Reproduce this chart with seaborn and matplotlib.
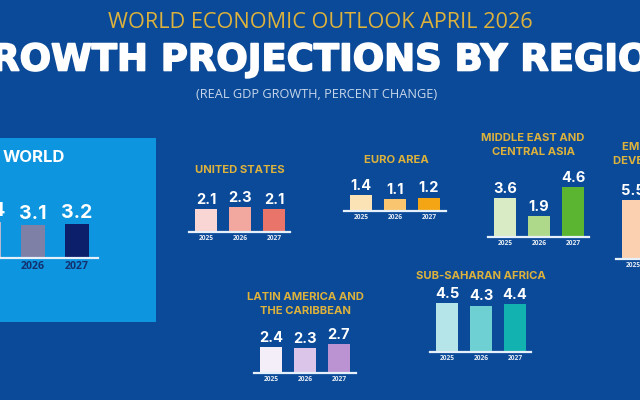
import matplotlib
matplotlib.use("Agg")
import matplotlib.pyplot as plt
import matplotlib.patheffects as pe
from matplotlib.patches import Rectangle
import pandas as pd
import seaborn as sns

W, H = 640, 400
BG = "#0B4A98"
GOLD = "#DDB23C"

years = ["2025", "2026", "2027"]
world_values = [3.4, 3.1, 3.2]
us_values = [2.1, 2.3, 2.1]
euro_values = [1.4, 1.1, 1.2]
mideast_values = [3.6, 1.9, 4.6]
latam_values = [2.4, 2.3, 2.7]
ssa_values = [4.5, 4.3, 4.4]
em_years = ["2025"]
em_values = [5.5]

world_colors = ["#B8B8D0", "#7F80A6", "#0B1F6B"]
us_colors = ["#F9D5D3", "#F2A79F", "#E9746A"]
euro_colors = ["#FCE3B6", "#F9C66F", "#F3A514"]
mideast_colors = ["#D8EBC5", "#AFD98A", "#5CB531"]
latam_colors = ["#F3EEF8", "#DBC5E8", "#BC93D2"]
ssa_colors = ["#B5E5E8", "#6FD0D3", "#12B2B0"]
em_colors = ["#FBD0B0"]

sns.set_theme(style="white")
plt.rcParams["font.family"] = ["Open Sans", "DejaVu Sans"]

fig = plt.figure(figsize=(W / 100, H / 100), dpi=100, facecolor=BG)

# World panel backdrop
fig.add_artist(Rectangle((0, 1 - 322 / H), 156 / W, 184 / H, transform=fig.transFigure,
                         facecolor="#0E95DF", edgecolor="none", zorder=0))


def panel(cats, vals, colors, left, right, base, step, bar_w, scale=10.8,
          val_fs=10.5, year_fs=4.8, year_color="#E8EEF6", lw=1.6):
    """left/right: baseline extent in px; base: baseline y in px from top."""
    height = 7 * scale
    ax = fig.add_axes([left / W, 1 - base / H, (right - left) / W, height / H])
    ax.patch.set_alpha(0)
    df = pd.DataFrame({"year": cats, "value": vals})
    sns.barplot(data=df, x="year", y="value", hue="year", palette=colors, order=cats,
                hue_order=cats, dodge=False, legend=False, width=bar_w, saturation=1,
                linewidth=0, ax=ax)
    span = (right - left) / step
    ax.set_xlim(-0.5, span - 0.5)
    ax.set_ylim(0, 7)
    for c in ax.containers:
        ax.bar_label(c, fmt="%.1f", padding=1.5, color="white", fontsize=val_fs,
                     fontweight="bold", family="Inter")
    ax.set_xlabel("")
    ax.set_ylabel("")
    ax.set_yticks([])
    ax.tick_params(axis="x", length=0, pad=2.2, labelsize=year_fs, labelcolor=year_color)
    for t in ax.get_xticklabels():
        t.set_fontweight("bold")
    sns.despine(ax=ax, left=True)
    ax.spines["bottom"].set_color("#E6F0FA")
    ax.spines["bottom"].set_linewidth(lw)
    return ax


panel(years, world_values, world_colors, -33, 98, 258, 44, 0.53, scale=10.6,
      val_fs=14, year_fs=7.6, year_color="#14306F")
panel(years, us_values, us_colors, 189, 290, 231.5, 34, 0.62)
panel(years, euro_values, euro_colors, 344, 446, 210.5, 34, 0.62)
panel(years, mideast_values, mideast_colors, 488, 589, 237, 34, 0.62)
panel(years, latam_values, latam_colors, 254, 356, 373, 34, 0.62)
panel(years, ssa_values, ssa_colors, 430, 531, 352, 34, 0.62)
panel(em_years, em_values, em_colors, 616, 718, 259, 34, 0.62)


def label(x, y, s, color=GOLD, fs=8.1, weight="bold", family="Inter", stroke=0):
    t = fig.text(x / W, 1 - y / H, s, color=color, fontsize=fs, fontweight=weight,
                 family=family, ha="center", va="center")
    if stroke:
        t.set_path_effects([pe.withStroke(linewidth=stroke, foreground=color)])


label(320, 22, "WORLD ECONOMIC OUTLOOK APRIL 2026", fs=15.6, weight="normal", family="Open Sans")
label(320, 60, "GROWTH PROJECTIONS BY REGION", color="white", fs=26.6, family="DejaVu Sans", stroke=1.2)
label(317, 94, "(REAL GDP GROWTH, PERCENT CHANGE)", color="#C6D6EA", fs=9.2, weight="normal", family="Open Sans")

label(34, 157, "WORLD", color="white", fs=12)
label(240, 170, "UNITED STATES")
label(396, 160, "EURO AREA")
label(533, 138, "MIDDLE EAST AND")
label(533, 152, "CENTRAL ASIA")
label(305, 297, "LATIN AMERICA AND")
label(305, 311, "THE CARIBBEAN")
label(481, 276, "SUB-SAHARAN AFRICA")
label(691, 147, "EMERGING MARKET AND")
label(685, 161, "DEVELOPING ECONOMIES")

fig.savefig("out.png", dpi=100, facecolor=BG)
